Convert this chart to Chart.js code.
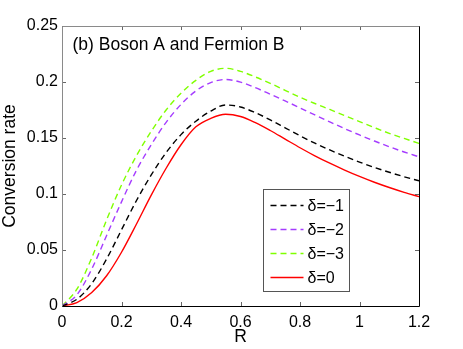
<!DOCTYPE html>
<html>
<head>
<meta charset="utf-8">
<script src="https://cdn.jsdelivr.net/npm/chart.js@4/dist/chart.umd.min.js"></script>
<style>
  html, body { margin: 0; padding: 0; background: #fff; }
  #wrap { width: 463px; height: 349px; }
</style>
</head>
<body>
<div id="wrap"><canvas id="chart" width="463" height="349"></canvas></div>
<script>
// R values along the x axis
const rValues = [0, 0.05, 0.1, 0.15, 0.2, 0.25, 0.3, 0.35, 0.4, 0.45, 0.5, 0.55, 0.6,
  0.65, 0.7, 0.75, 0.8, 0.85, 0.9, 0.95, 1.0, 1.05, 1.1, 1.15, 1.2];

// conversion rate for each detuning
const deltaM1 = [0, 0.006, 0.020, 0.042, 0.068, 0.094, 0.117, 0.137, 0.153, 0.165, 0.174, 0.1795, 0.1777,
  0.1726, 0.1662, 0.1591, 0.152, 0.1454, 0.1393, 0.1337, 0.1285, 0.1237, 0.1194, 0.1154, 0.1118];
const deltaM2 = [0, 0.010, 0.033, 0.063, 0.093, 0.121, 0.144, 0.164, 0.180, 0.192, 0.1995, 0.2022, 0.1999,
  0.1949, 0.1891, 0.1831, 0.1769, 0.1706, 0.1644, 0.1584, 0.1527, 0.1473, 0.1422, 0.1375, 0.1332];
const deltaM3 = [0, 0.015, 0.043, 0.077, 0.108, 0.134, 0.156, 0.175, 0.190, 0.2015, 0.2095, 0.2122, 0.2095,
  0.2045, 0.1988, 0.1926, 0.1864, 0.1808, 0.1755, 0.170, 0.1646, 0.1593, 0.1542, 0.1496, 0.1452];
const delta0 = [0, 0.003, 0.012, 0.027, 0.048, 0.073, 0.099, 0.123, 0.144, 0.160, 0.1675, 0.1712, 0.1692,
  0.1637, 0.1567, 0.149, 0.1413, 0.1341, 0.1275, 0.1214, 0.1157, 0.1105, 0.1058, 0.1015, 0.0976];

const seriesLabels = ["δ=−1", "δ=−2", "δ=−3", "δ=0"];
const xTicks = [0, 0.2, 0.4, 0.6, 0.8, 1, 1.2];
const yTicks = [0, 0.05, 0.1, 0.15, 0.2, 0.25];

const FONT = '"Liberation Sans", Arial, Helvetica, sans-serif';

function pts(ys) {
  return rValues.map((r, i) => ({ x: r, y: ys[i] }));
}

function line(label, ys, color, dashed) {
  return {
    label: label,
    data: pts(ys),
    borderColor: color,
    backgroundColor: color,
    borderWidth: 1.4,
    borderDash: dashed ? [6, 4] : [],
    pointRadius: 0,
    cubicInterpolationMode: "monotone",
    fill: false
  };
}

// box, inward ticks, panel text and legend inside the plot
const framePlugin = {
  id: "frame",
  afterDatasetsDraw(chart) {
    const c = chart.ctx;
    const a = chart.chartArea;
    const xs = chart.scales.x, ys = chart.scales.y;
    const tl = 4;
    c.save();
    c.lineWidth = 1;
    c.setLineDash([]);

    // ticks
    c.strokeStyle = "#666";
    c.beginPath();
    xTicks.forEach(v => {
      const px = Math.round(xs.getPixelForValue(v)) + 0.5;
      c.moveTo(px, a.bottom); c.lineTo(px, a.bottom - tl);
      c.moveTo(px, a.top); c.lineTo(px, a.top + tl);
    });
    yTicks.forEach(v => {
      const py = Math.round(ys.getPixelForValue(v)) + 0.5;
      c.moveTo(a.left, py); c.lineTo(a.left + tl, py);
      c.moveTo(a.right, py); c.lineTo(a.right - tl, py);
    });
    c.stroke();

    // box: left/top grey, bottom/right black
    const L = Math.round(a.left) + 0.5, R = Math.round(a.right) + 0.5;
    const T = Math.round(a.top) + 0.5, B = Math.round(a.bottom) + 0.5;
    c.strokeStyle = "#8a8a8a";
    c.beginPath();
    c.moveTo(L, B); c.lineTo(L, T); c.lineTo(R, T);
    c.stroke();
    c.strokeStyle = "#000";
    c.beginPath();
    c.moveTo(L, B); c.lineTo(R, B); c.lineTo(R, T);
    c.stroke();

    // panel label
    c.fillStyle = "#000";
    c.font = "17.5px " + FONT;
    c.textBaseline = "alphabetic";
    c.textAlign = "left";
    c.fillText("(b) Boson A and Fermion B", a.left + 10.5, a.top + 24);

    // legend
    const bx = a.left + 201.5, by = a.top + 163.5, bw = 86, bh = 102;
    c.fillStyle = "#fff";
    c.fillRect(bx, by, bw, bh);
    c.strokeStyle = "#555";
    c.strokeRect(bx, by, bw, bh);
    c.font = "16px " + FONT;
    c.textBaseline = "middle";
    chart.data.datasets.forEach((ds, i) => {
      const yy = by + 16 + i * 24;
      c.strokeStyle = ds.borderColor;
      c.lineWidth = ds.borderWidth;
      c.setLineDash(ds.borderDash);
      c.beginPath();
      c.moveTo(bx + 7, yy); c.lineTo(bx + 40, yy);
      c.stroke();
      c.setLineDash([]);
      c.fillStyle = "#000";
      c.fillText(ds.label, bx + 44, yy + 1);
    });
    c.restore();
  }
};

new Chart(document.getElementById("chart").getContext("2d"), {
  type: "line",
  data: {
    datasets: [
      line(seriesLabels[0], deltaM1, "#000000", true),
      line(seriesLabels[1], deltaM2, "#a53cff", true),
      line(seriesLabels[2], deltaM3, "#80ff00", true),
      line(seriesLabels[3], delta0, "#ff0000", false)
    ]
  },
  options: {
    responsive: false,
    animation: false,
    layout: { padding: { left: 0, right: 44, top: 26, bottom: 0 } },
    plugins: { legend: { display: false }, tooltip: { enabled: false } },
    scales: {
      x: {
        type: "linear",
        min: 0,
        max: 1.2,
        afterBuildTicks: s => { s.ticks = xTicks.map(v => ({ value: v })); },
        afterFit: s => { s.height = 43; },
        grid: { display: false, drawTicks: false },
        border: { display: false },
        ticks: {
          color: "#000",
          padding: 7,
          maxRotation: 0,
          font: { family: FONT, size: 16 },
          callback: v => String(Math.round(v * 10) / 10)
        },
        title: {
          display: true,
          text: "R",
          color: "#000",
          padding: { top: 0, bottom: 1 },
          font: { family: FONT, size: 17.5 }
        }
      },
      y: {
        min: 0,
        max: 0.25,
        afterBuildTicks: s => { s.ticks = yTicks.map(v => ({ value: v })); },
        afterFit: s => { s.width = 62; },
        grid: { display: false, drawTicks: false },
        border: { display: false },
        ticks: {
          color: "#000",
          padding: 4,
          font: { family: FONT, size: 16 },
          callback: v => String(Math.round(v * 100) / 100)
        },
        title: {
          display: true,
          text: "Conversion rate",
          color: "#000",
          padding: 0,
          font: { family: FONT, size: 17.5 }
        }
      }
    }
  },
  plugins: [framePlugin]
});
</script>
</body>
</html>
